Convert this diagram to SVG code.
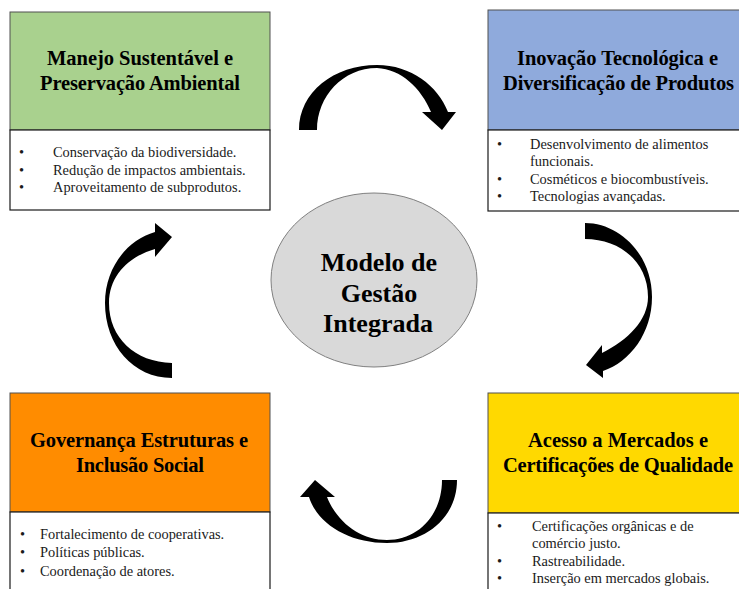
<svg xmlns="http://www.w3.org/2000/svg" width="739" height="589" viewBox="0 0 739 589">
<style>
.hdr{stroke:#505050;stroke-width:1}
.lst{fill:#fff;stroke:#1a1a1a;stroke-width:1.2}
.ht{font-family:"Liberation Serif",serif;font-weight:bold;font-size:20.5px;fill:#000;text-anchor:middle}
.bt{font-family:"Liberation Serif",serif;font-size:14.4px;fill:#1a1a1a}
.ct{font-family:"Liberation Serif",serif;font-weight:bold;font-size:26px;fill:#000;text-anchor:middle}
.arr{fill:#000}
</style>
<rect width="739" height="589" fill="#fff"/>
<g id="connectors">
<path class="arr" d="M299,130 C299,92 334,65 377,65 C411,65 438,86 448,112 L456,112 L442,130 L422,112 L431,112 C421,88 401,69 377,68 C343,68 317,96 317,130 Z"/>
<path class="arr" d="M585,223 C620,223 652,255 652,297 C652,333 630,362 603,371 L603,378 L586,365 L602,345 L602,353 C628,340 648,320 648,297 C648,262 620,239 585,239 Z"/>
<path class="arr" d="M457,480 C457,518 425,543 387,543 C350,543 318,525 309,497 L300,497 L315,480 L335,497 L327,497 C337,522 360,540 387,540 C418,540 442,515 442,480 Z"/>
<path class="arr" d="M172,378 C133,378 105,345 105,303 C105,268 127,240 155,232 L155,223 L172,237 L155,257 L155,249 C130,256 109,275 109,303 C109,338 135,362 172,363 Z"/>
</g>
<g id="center">
<ellipse cx="374" cy="280" rx="103" ry="87" fill="#D9D9D9" stroke="#808080" stroke-width="1"/>
<text class="ct" x="379" y="271">Modelo de</text>
<text class="ct" x="379" y="302">Gestão</text>
<text class="ct" x="378" y="332">Integrada</text>
</g>
<g id="node-manejo">
<rect class="hdr" x="10" y="12" width="260" height="118" fill="#A9D18E"/>
<rect class="lst" x="10" y="130" width="260" height="80"/>
<text class="ht" x="140" y="65" textLength="186" lengthAdjust="spacing">Manejo Sustentável e</text>
<text class="ht" x="140" y="90" textLength="200" lengthAdjust="spacing">Preservação Ambiental</text>
<text class="bt"><tspan x="19" y="157">•</tspan><tspan x="53" y="157">Conservação da biodiversidade.</tspan>
<tspan x="19" y="175">•</tspan><tspan x="53" y="175">Redução de impactos ambientais.</tspan>
<tspan x="19" y="192">•</tspan><tspan x="53" y="192">Aproveitamento de subprodutos.</tspan></text>
</g>
<g id="node-inovacao">
<rect class="hdr" x="488" y="10" width="262" height="120" fill="#8FAADC"/>
<rect class="lst" x="488" y="130" width="262" height="81"/>
<text class="ht" x="617.5" y="65" textLength="201" lengthAdjust="spacing">Inovação Tecnológica e</text>
<text class="ht" x="618.5" y="90" textLength="231" lengthAdjust="spacing">Diversificação de Produtos</text>
<text class="bt"><tspan x="497" y="149">•</tspan><tspan x="530" y="149">Desenvolvimento de alimentos</tspan>
<tspan x="530" y="166">funcionais.</tspan>
<tspan x="497" y="184">•</tspan><tspan x="530" y="184">Cosméticos e biocombustíveis.</tspan>
<tspan x="497" y="201">•</tspan><tspan x="530" y="201">Tecnologias avançadas.</tspan></text>
</g>
<g id="node-governanca">
<rect class="hdr" x="10" y="393" width="260" height="119" fill="#FF8C00"/>
<rect class="lst" x="10" y="512" width="260" height="90"/>
<text class="ht" x="139" y="447" textLength="218" lengthAdjust="spacing">Governança Estruturas e</text>
<text class="ht" x="140" y="472" textLength="128" lengthAdjust="spacing">Inclusão Social</text>
<text class="bt"><tspan x="20" y="539">•</tspan><tspan x="40" y="539">Fortalecimento de cooperativas.</tspan>
<tspan x="20" y="557">•</tspan><tspan x="40" y="557">Políticas públicas.</tspan>
<tspan x="20" y="576">•</tspan><tspan x="40" y="576">Coordenação de atores.</tspan></text>
</g>
<g id="node-acesso">
<rect class="hdr" x="488" y="393" width="262" height="120" fill="#FFD900"/>
<rect class="lst" x="488" y="513" width="262" height="90"/>
<text class="ht" x="618" y="447" textLength="180" lengthAdjust="spacing">Acesso a Mercados e</text>
<text class="ht" x="618" y="472" textLength="230" lengthAdjust="spacing">Certificações de Qualidade</text>
<text class="bt"><tspan x="497" y="531">•</tspan><tspan x="532" y="531">Certificações orgânicas e de</tspan>
<tspan x="532" y="548">comércio justo.</tspan>
<tspan x="497" y="566">•</tspan><tspan x="532" y="566">Rastreabilidade.</tspan>
<tspan x="497" y="583">•</tspan><tspan x="532" y="583">Inserção em mercados globais.</tspan></text>
</g>
</svg>
